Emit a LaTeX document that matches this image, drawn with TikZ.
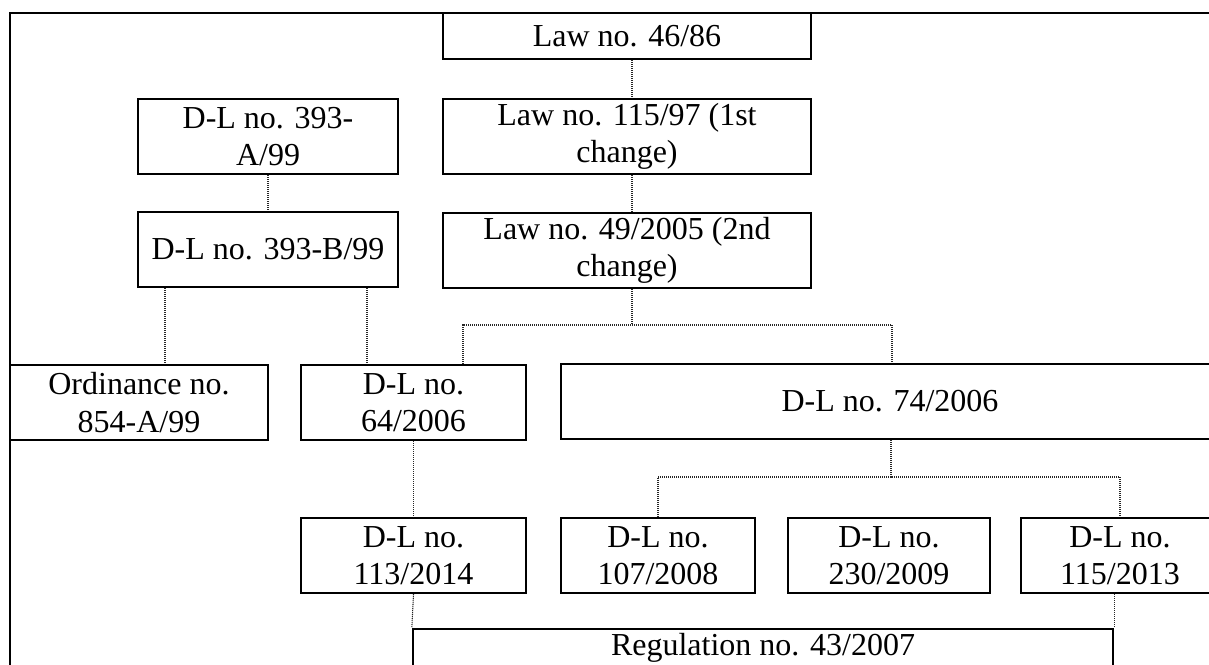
\documentclass[tikz,border=0pt]{standalone}
\usepackage{fontspec}
\setmainfont{Liberation Serif}
\tikzset{
  lawbox/.style 2 args={draw, line width=1.8pt, inner sep=0pt, align=center,
    minimum width=#1*0.75pt, minimum height=#2*0.75pt,
    font=\fontsize{24}{28}\selectfont},
  link/.style={draw=black!85, line width=0.8pt, dash pattern=on 0.8pt off 0.7pt}
}

\begin{document}
\begin{tikzpicture}[x=0.75pt, y=-0.75pt]
  \useasboundingbox (0, 0) rectangle (1209, 664);
  \clip (0, 0) rectangle (1209, 664);
  \draw[line width=1.8pt] (10, 700) -- (10, 13) -- (1230, 13);

  \node[lawbox={368}{46}] (law4686) at (627, 36) {Law no. 46/86};
  \node[lawbox={368}{75}] (law11597) at (627, 136.5) {Law no. 115/97 (1st\\change)};
  \node[lawbox={368}{75}] (law492005) at (627, 250.5) {Law no. 49/2005 (2nd\\change)};
  \node[lawbox={260}{75}] (dl393a) at (268, 136.5) {D-L no. 393-\\A/99};
  \node[lawbox={260}{75}] (dl393b) at (268, 249.5) {D-L no. 393-B/99};
  \node[lawbox={258}{75}] (ord) at (139, 402.5) {Ordinance no.\\854-A/99};
  \node[lawbox={225}{75}] (dl642006) at (413.5, 402.5) {D-L no.\\64/2006};
  \node[lawbox={658}{75}] (dl742006) at (890, 401.5) {D-L no. 74/2006};
  \node[lawbox={225}{75}] (dl1132014) at (413.5, 555.5) {D-L no.\\113/2014};
  \node[lawbox={194}{75}] (dl1072008) at (658, 555.5) {D-L no.\\107/2008};
  \node[lawbox={202}{75}] (dl2302009) at (889, 555.5) {D-L no.\\230/2009};
  \node[lawbox={198}{75}] (dl1152013) at (1120, 555.5) {D-L no.\\115/2013};
  \node[lawbox={700}{46}, text depth=11pt] (reg) at (763, 652) {Regulation no. 43/2007};

  \coordinate (fork1) at (632, 325);
  \coordinate (fork2) at (891, 477);

  \draw[link] (law4686.south -| fork1) -- (law11597.north -| fork1);
  \draw[link] (law11597.south -| fork1) -- (law492005.north -| fork1);
  \draw[link] (dl393a) -- (dl393b);
  \draw[link] (dl393b.south -| 165,0) -- (ord.north -| 165,0);
  \draw[link] (dl393b.south -| 367,0) -- (dl642006.north -| 367,0);
  \draw[link] (law492005.south -| fork1) -- (fork1);
  \draw[link] (dl642006.north -| 463,0) |- (fork1) -| (dl742006.north -| 892,0);
  \draw[link] (dl742006.south -| fork2) -- (fork2);
  \draw[link] (dl1072008.north) |- (fork2) -| (dl1152013.north);
  \draw[link] (dl642006) -- (dl1132014);
  \draw[link] (dl1132014.south) -- (reg.north west);
  \draw[link] (dl1152013.south -| reg.north east) -- (reg.north east);
\end{tikzpicture}
\end{document}
